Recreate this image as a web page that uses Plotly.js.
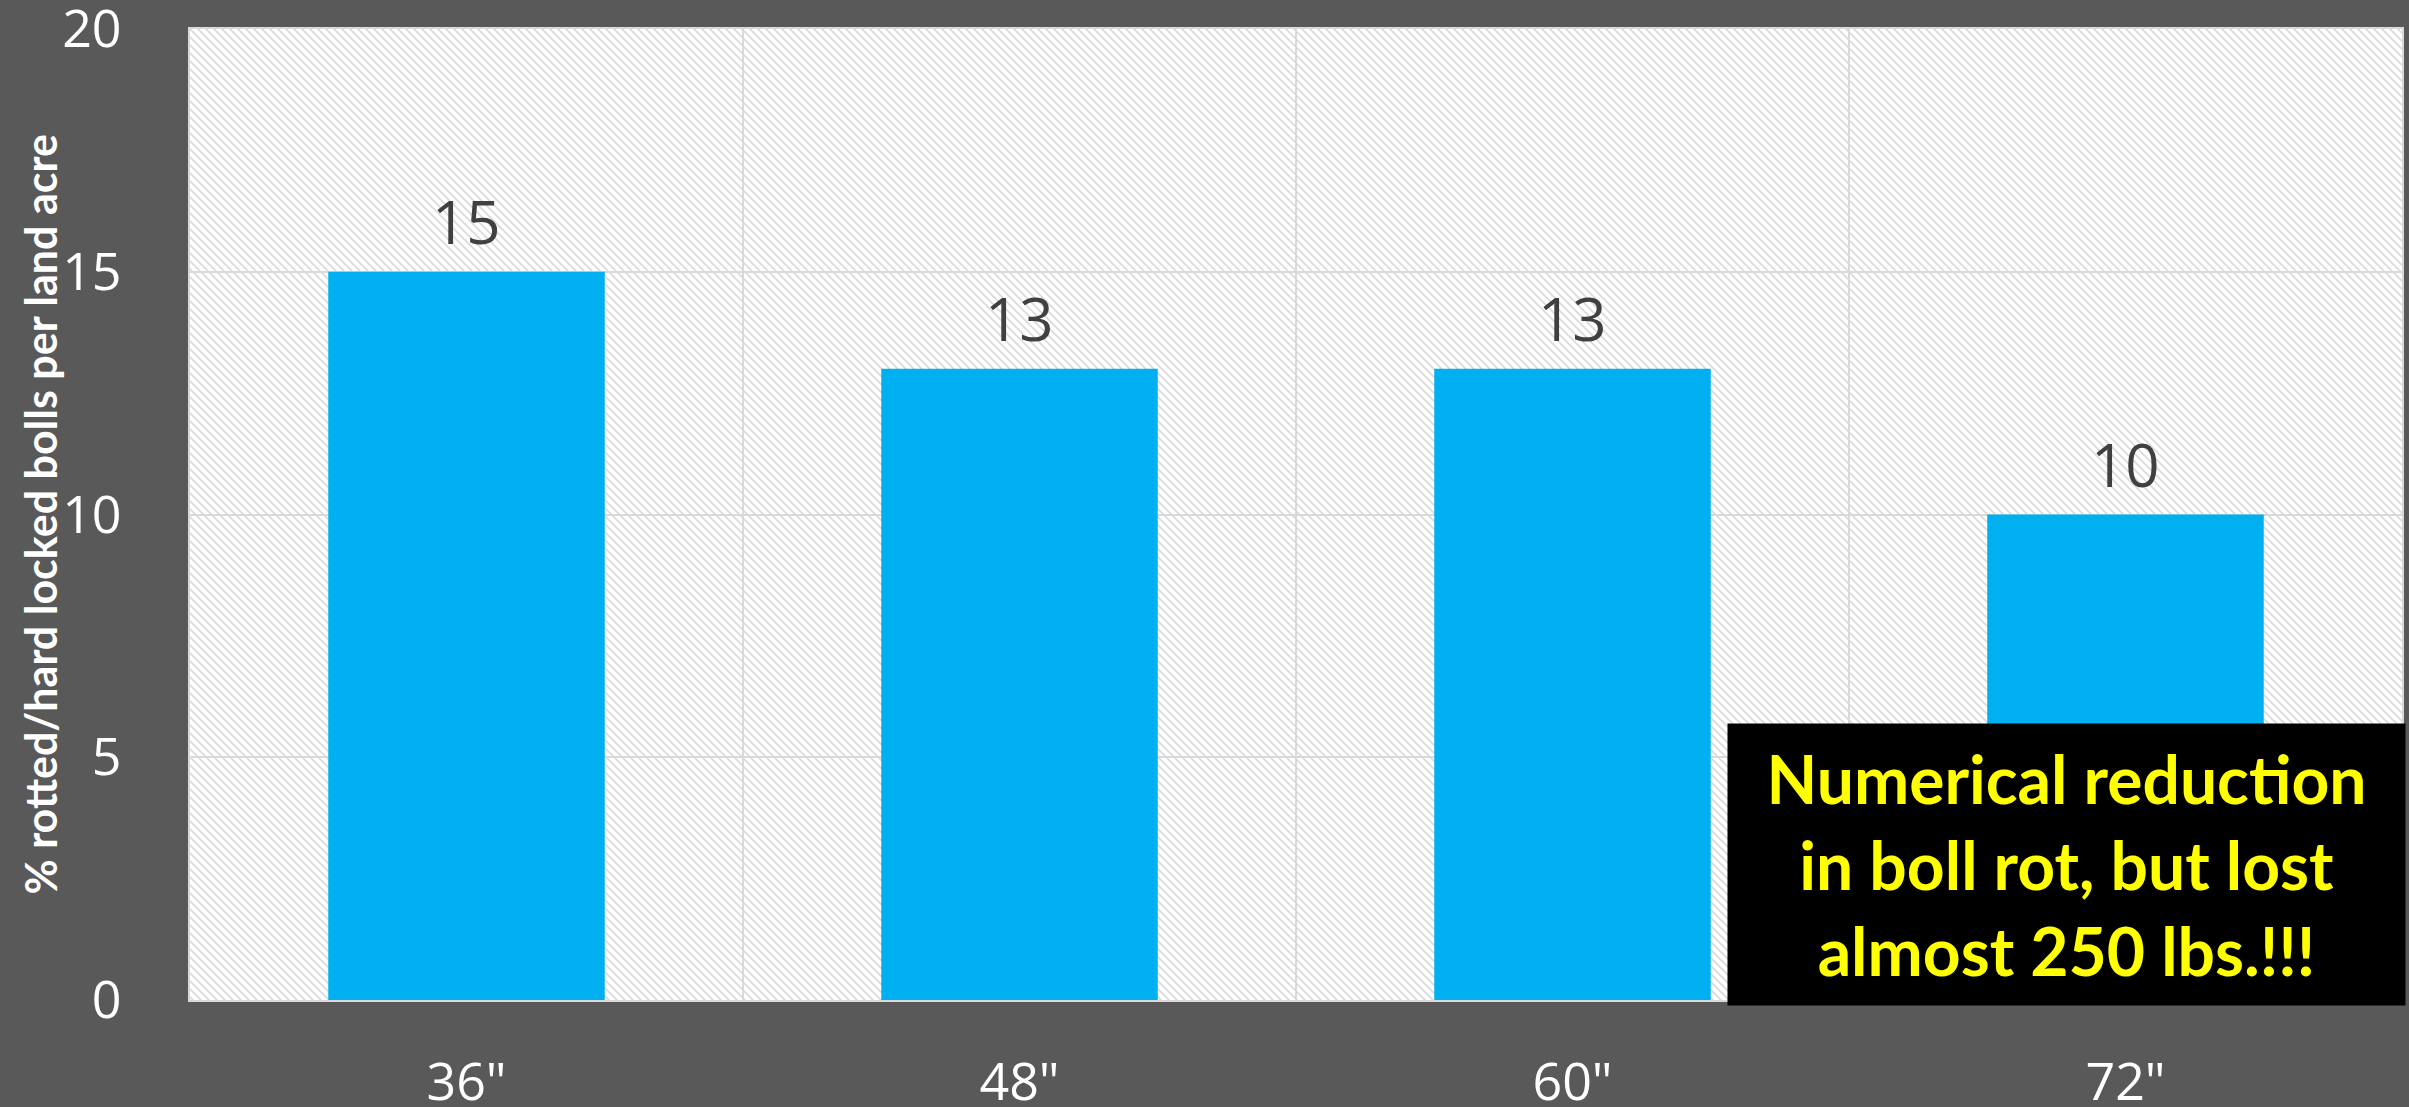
<!DOCTYPE html>
<html>
<head>
<meta charset="utf-8">
<script src="https://cdn.plot.ly/plotly-3.0.1.min.js"></script>
<style>
html,body{margin:0;padding:0;background:#595959;}
#chart{width:2409px;height:1107px;}
</style>
</head>
<body>
<div id="chart"></div>
<script>
const categories = ['36"', '48"', '60"', '72"'];
const values = [15, 13, 13, 10];
const yTickVals = [0, 5, 10, 15, 20];
const yTitle = '% rotted/hard locked bolls per land acre';
const noteText = 'Numerical reduction<br>in boll rot, but lost<br>almost 250 lbs.!!!';

const patternSvg = '<svg xmlns="http://www.w3.org/2000/svg" width="2212" height="971">' +
  '<defs><pattern id="p" patternUnits="userSpaceOnUse" width="8" height="8">' +
  '<rect width="8" height="8" fill="#ffffff"/>' +
  '<path d="M-2,-2 L10,10 M-2,6 L2,10 M6,-2 L10,2" stroke="#dadada" stroke-width="1.6"/>' +
  '</pattern></defs><rect width="2212" height="971" fill="url(#p)"/></svg>';
const patternSrc = 'data:image/svg+xml;charset=utf-8,' + encodeURIComponent(patternSvg);

const trace = {
  type: 'bar',
  x: categories,
  y: values,
  width: 0.5,
  marker: {color: '#00B0F0', line: {width: 0}},
  hoverinfo: 'x+y'
};

const valueLabels = categories.map((c, i) => ({
  xref: 'x', yref: 'y',
  x: c, y: values[i],
  xanchor: 'center', yanchor: 'bottom',
  yshift: 8,
  showarrow: false,
  text: String(values[i]),
  font: {family: 'Open Sans', size: 60, color: '#404040'}
}));

const yTitleAnnotation = {
  xref: 'paper', yref: 'paper',
  x: 0, y: 0.5,
  xanchor: 'center', yanchor: 'middle',
  xshift: -150,
  textangle: -90,
  showarrow: false,
  text: yTitle,
  font: {family: 'Lato', size: 43, color: '#ffffff', weight: 'bold'}
};

const layout = {
  width: 2409,
  height: 1107,
  paper_bgcolor: '#595959',
  plot_bgcolor: '#ffffff',
  margin: {l: 190, r: 7, t: 29, b: 107},
  showlegend: false,
  font: {family: 'Open Sans', color: '#ffffff'},
  xaxis: {
    type: 'category',
    tickson: 'boundaries',
    showgrid: true,
    gridcolor: '#d9d9d9',
    gridwidth: 2,
    showline: true,
    linecolor: '#d9d9d9',
    linewidth: 2,
    mirror: true,
    ticks: '',
    ticklabelstandoff: 36,
    ticklabeloverflow: 'allow',
    tickfont: {family: 'Open Sans', size: 52, color: '#ffffff'},
    zeroline: false
  },
  yaxis: {
    range: [0, 20],
    tickvals: yTickVals,
    showgrid: true,
    gridcolor: '#d9d9d9',
    gridwidth: 2,
    showline: true,
    linecolor: '#d9d9d9',
    linewidth: 2,
    mirror: true,
    zeroline: false,
    ticks: '',
    ticklabelstandoff: 56,
    ticklabeloverflow: 'allow',
    tickfont: {family: 'Open Sans', size: 52, color: '#ffffff'}
  },
  images: [{
    source: patternSrc,
    xref: 'paper', yref: 'paper',
    x: 0, y: 1, sizex: 1, sizey: 1,
    xanchor: 'left', yanchor: 'top',
    sizing: 'stretch',
    layer: 'below'
  }],
  annotations: valueLabels.concat([yTitleAnnotation, {
    xref: 'paper', yref: 'paper',
    x: (1727 - 190) / 2212, y: (1000 - 723) / 971,
    xanchor: 'left', yanchor: 'top',
    width: 665, height: 269,
    borderpad: 6,
    bgcolor: '#000000',
    showarrow: false,
    align: 'center',
    valign: 'middle',
    text: noteText,
    font: {family: 'Lato', size: 66, color: '#ffff00', weight: 'bold'}
  }])
};

Plotly.newPlot('chart', [trace], layout, {displayModeBar: false, staticPlot: true});
</script>
</body>
</html>
